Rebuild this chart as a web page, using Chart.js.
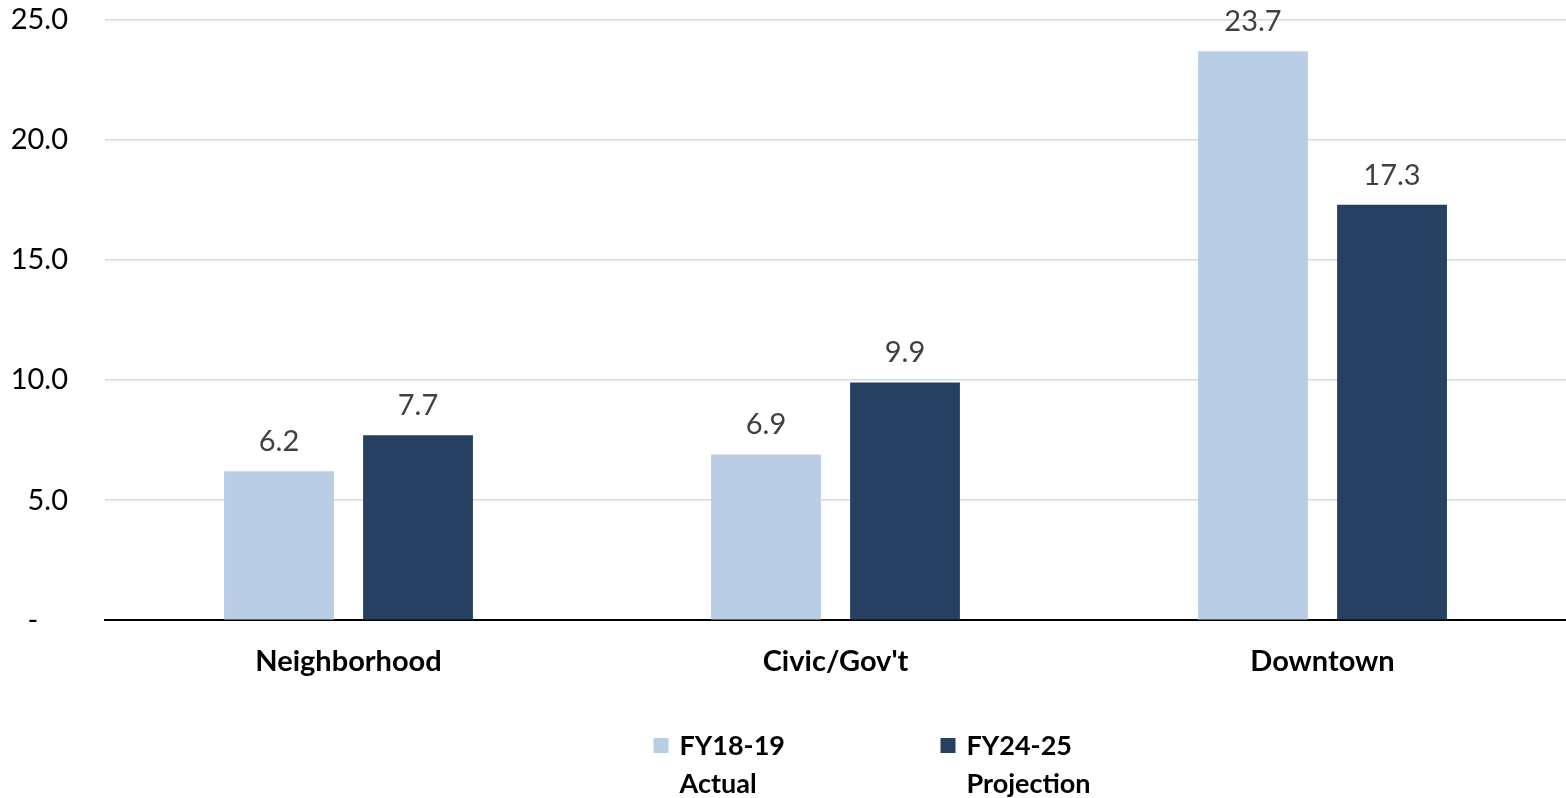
<!DOCTYPE html>
<html>
<head>
<meta charset="utf-8">
<script src="https://cdn.jsdelivr.net/npm/chart.js@4.4.0/dist/chart.umd.min.js"></script>
<style>
  html, body { margin: 0; padding: 0; background: #fff; }
  #wrap { width: 1566px; height: 798px; position: relative; }
</style>
</head>
<body>
<div id="wrap"><canvas id="chart"></canvas></div>
<script>
// datos del grafico
const categories = ['Neighborhood', "Civic/Gov't", 'Downtown'];
const actualValues = [6.2, 6.9, 23.7];
const projectionValues = [7.7, 9.9, 17.3];
const seriesLabels = [['FY18-19', 'Actual'], ['FY24-25', 'Projection']];
const seriesColors = ['#B9CDE5', '#264061'];

const fontFamily = 'Lato, "Open Sans", sans-serif';

// etiquetas encima de cada barra
const valueLabels = {
    id: 'valueLabels',
    afterDatasetsDraw(chart) {
        const ctx = chart.ctx;
        ctx.save();
        ctx.font = '29px ' + fontFamily;
        ctx.fillStyle = '#404040';
        ctx.textAlign = 'center';
        ctx.textBaseline = 'bottom';
        chart.data.datasets.forEach((ds, i) => {
            chart.getDatasetMeta(i).data.forEach((bar, j) => {
                ctx.fillText(ds.data[j].toFixed(1), bar.x, bar.y - 15);
            });
        });
        ctx.restore();
    }
};

// leyenda con texto en dos lineas
const bottomLegend = {
    id: 'bottomLegend',
    afterDraw(chart) {
        const ctx = chart.ctx;
        const area = chart.chartArea;
        const mid = (area.left + area.right) / 2;
        const starts = [mid - 182, mid + 105];
        const top = 738;
        ctx.save();
        ctx.font = 'bold 27px ' + fontFamily;
        ctx.textBaseline = 'middle';
        ctx.textAlign = 'left';
        seriesLabels.forEach((lines, i) => {
            ctx.fillStyle = seriesColors[i];
            ctx.fillRect(starts[i], top, 15, 15);
            ctx.fillStyle = '#000';
            lines.forEach((line, k) => {
                ctx.fillText(line, starts[i] + 26, top + 8 + k * 38);
            });
        });
        ctx.restore();
    }
};

const ctx = document.getElementById('chart').getContext('2d');
const chart = new Chart(ctx, {
    type: 'bar',
    data: {
        labels: categories,
        datasets: [
            { label: seriesLabels[0].join(' '), data: actualValues, backgroundColor: seriesColors[0] },
            { label: seriesLabels[1].join(' '), data: projectionValues, backgroundColor: seriesColors[1] }
        ]
    },
    options: {
        responsive: true,
        maintainAspectRatio: false,
        animation: false,
        categoryPercentage: 0.571,
        barPercentage: 0.79,
        layout: { padding: { top: 20, right: 0, bottom: 103, left: 0 } },
        plugins: {
            legend: { display: false },
            tooltip: { enabled: false }
        },
        scales: {
            x: {
                grid: { display: false },
                border: { color: '#000', width: 2 },
                ticks: {
                    color: '#000',
                    font: { family: fontFamily, size: 29, weight: 'bold' },
                    padding: 16
                }
            },
            y: {
                min: 0,
                max: 25,
                grid: { color: '#D9D9D9', lineWidth: 1.5, drawTicks: false },
                border: { display: false },
                ticks: {
                    stepSize: 5,
                    color: '#000',
                    padding: 37,
                    font: { family: fontFamily, size: 29 },
                    callback: (v) => v === 0 ? '-    ' : v.toFixed(1)
                },
                afterFit: (scale) => {
                    // ancho fijo y sin relleno extra arriba/abajo
                    scale.width = 105;
                    scale.paddingTop = 0;
                    scale.paddingBottom = 0;
                }
            }
        }
    },
    plugins: [valueLabels, bottomLegend]
});
</script>
</body>
</html>
